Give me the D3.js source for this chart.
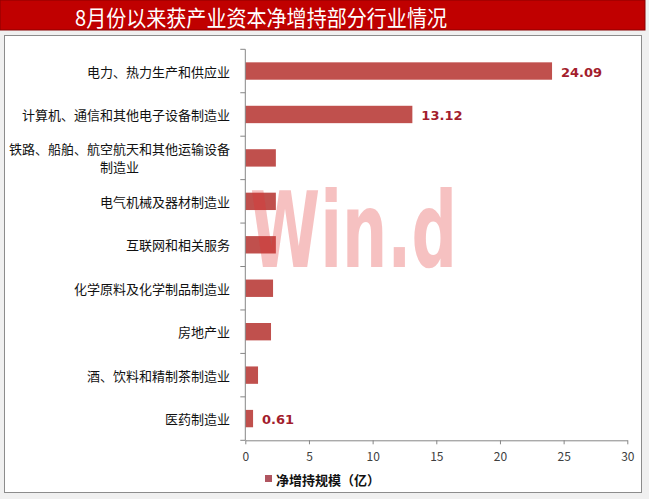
<!DOCTYPE html>
<html>
<head>
<meta charset="utf-8">
<script src="https://cdn.jsdelivr.net/npm/d3@7/dist/d3.min.js"></script>
<style>
html,body{margin:0;padding:0;background:#f0f0f0;}
svg{display:block;}
</style>
</head>
<body>
<svg id="chart" width="649" height="499"></svg>
<script>
const title = "8月份以来获产业资本净增持部分行业情况";
const categories = [
  "电力、热力生产和供应业",
  "计算机、通信和其他电子设备制造业",
  "铁路、船舶、航空航天和其他运输设备|制造业",
  "电气机械及器材制造业",
  "互联网和相关服务",
  "化学原料及化学制品制造业",
  "房地产业",
  "酒、饮料和精制茶制造业",
  "医药制造业"
];
const values = [24.09, 13.12, 2.40, 2.40, 2.40, 2.18, 2.02, 1.00, 0.61];
const shownLabels = [true, true, false, false, false, false, false, false, true];
const xTicks = [0, 5, 10, 15, 20, 25, 30];
const seriesName = "净增持规模（亿）";

const svg = d3.select("#chart");
const font = "'Noto Sans CJK SC', 'Noto Sans', sans-serif";

// title bar
svg.append("rect").attr("x", 0).attr("y", 0).attr("width", 645).attr("height", 30)
  .attr("fill", "#c00000").attr("stroke", "#8a0000").attr("stroke-width", 1);
svg.append("text").attr("x", 75).attr("y", 16)
  .attr("dominant-baseline", "central").attr("fill", "#ffffff")
  .attr("font-family", font).attr("font-size", 22)
  .attr("textLength", 372).attr("lengthAdjust", "spacingAndGlyphs").text(title);

// panel
svg.append("rect").attr("x", 4.5).attr("y", 35.5).attr("width", 637).attr("height", 457)
  .attr("fill", "#ffffff").attr("stroke", "#8c8c8c").attr("stroke-width", 1);

const x = d3.scaleLinear().domain([0, 30]).range([245.3, 627.3]);
const y = d3.scaleBand().domain(d3.range(categories.length)).range([49.3, 440.3])
  .paddingInner(0.6).paddingOuter(0.3);

// bars
svg.append("g").selectAll("rect").data(values).join("rect")
  .attr("x", x(0)).attr("y", (d, i) => y(i)).attr("height", y.bandwidth())
  .attr("width", d => x(d) - x(0)).attr("fill", "#c0504d");

// watermark
svg.append("text").attr("x", 250).attr("y", 267).attr("font-family", "'DejaVu Sans', sans-serif")
  .attr("font-weight", "bold")
  .attr("font-size", 105).attr("textLength", 207).attr("lengthAdjust", "spacingAndGlyphs")
  .attr("fill", "rgb(225,50,50)").attr("fill-opacity", 0.3).text("Win.d");

// y axis
const gy = svg.append("g");
gy.append("line").attr("x1", x(0)).attr("x2", x(0)).attr("y1", 49.3).attr("y2", 440.3)
  .attr("stroke", "#868686");
const bounds = d3.range(categories.length + 1).map(i => 49.3 + i * y.step());
gy.selectAll("line.t").data(bounds).join("line").attr("class", "t")
  .attr("x1", x(0) - 5).attr("x2", x(0)).attr("y1", d => d).attr("y2", d => d)
  .attr("stroke", "#868686");

// x axis
const gx = svg.append("g").attr("transform", "translate(0,440.3)")
  .call(d3.axisBottom(x).tickValues(xTicks).tickSize(4).tickSizeOuter(0).tickPadding(8));
gx.select(".domain").attr("stroke", "#868686");
gx.selectAll(".tick line").attr("stroke", "#868686");
gx.selectAll(".tick text").attr("font-family", font).attr("font-size", 12).attr("fill", "#404040");

// category labels
categories.forEach((c, i) => {
  const cy = y(i) + y.bandwidth() / 2;
  const lines = c.split("|");
  if (lines.length === 1) {
    svg.append("text").attr("x", 230).attr("y", cy).attr("text-anchor", "end")
      .attr("dominant-baseline", "central").attr("font-family", font)
      .attr("font-size", 13).attr("fill", "#111").text(lines[0]);
  } else {
    const t1 = svg.append("text").attr("y", cy - 9).attr("text-anchor", "middle")
      .attr("dominant-baseline", "central").attr("font-family", font)
      .attr("font-size", 13).attr("fill", "#111").text(lines[0]);
    const w = t1.node().getComputedTextLength();
    const cx = 230 - w / 2;
    t1.attr("x", cx);
    svg.append("text").attr("x", cx).attr("y", cy + 9).attr("text-anchor", "middle")
      .attr("dominant-baseline", "central").attr("font-family", font)
      .attr("font-size", 13).attr("fill", "#111").text(lines[1]);
  }
});

// data labels
svg.append("g").selectAll("text").data(values.map((v, i) => ({v, i})).filter(d => shownLabels[d.i]))
  .join("text").attr("x", d => x(d.v) + 9).attr("y", d => y(d.i) + y.bandwidth() / 2 + 1)
  .attr("dominant-baseline", "central").attr("font-family", "'DejaVu Sans', sans-serif")
  .attr("font-weight", "bold").attr("font-size", 13).attr("fill", "#a31d2d")
  .text(d => d.v.toFixed(2));

// legend
svg.append("rect").attr("x", 265).attr("y", 475).attr("width", 7).attr("height", 7).attr("fill", "#b05560");
svg.append("text").attr("x", 276).attr("y", 479).attr("dominant-baseline", "central")
  .attr("font-family", font).attr("font-weight", "bold").attr("font-size", 13)
  .attr("fill", "#111").text(seriesName);
</script>
</body>
</html>
